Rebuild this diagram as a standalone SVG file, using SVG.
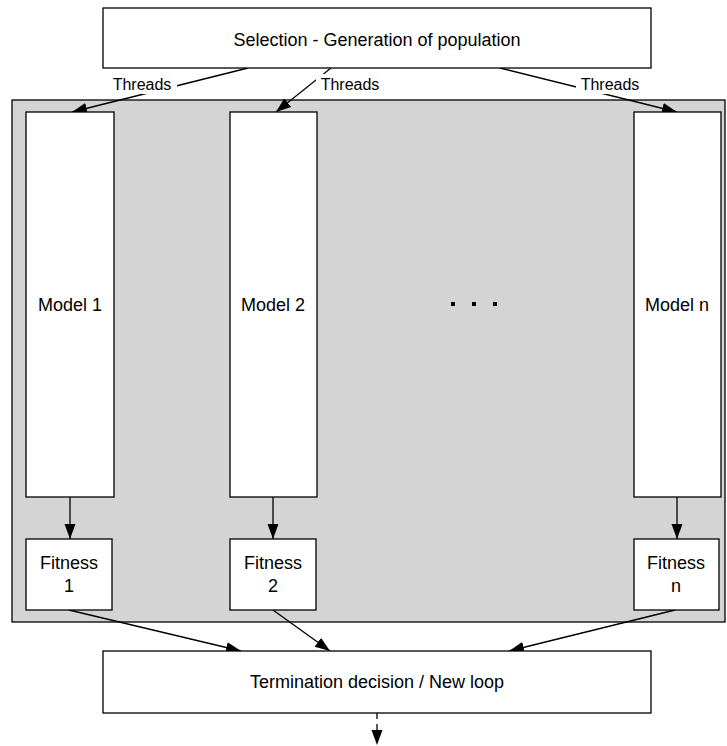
<svg xmlns="http://www.w3.org/2000/svg" width="727" height="746" viewBox="0 0 727 746">
<style>
.box{fill:#fff;stroke:#000;stroke-width:1.3}
.t{font-family:"Liberation Sans",Arial,sans-serif;font-size:18px;fill:#000;text-anchor:middle}
.th{font-family:"Liberation Sans",Arial,sans-serif;font-size:16px;fill:#000;text-anchor:middle}
.ln{stroke:#000;stroke-width:1.3;fill:none;marker-end:url(#ah)}
.dash{stroke:#000;stroke-width:1.3;fill:none;stroke-dasharray:6,5;marker-end:url(#ah)}
</style>
<defs>
<marker id="ah" markerUnits="userSpaceOnUse" markerWidth="16" markerHeight="14" viewBox="0 0 16 14" refX="15" refY="7" orient="auto">
<path d="M0,1.5 L15,7 L0,12.5 Z" fill="#000"/>
</marker>
</defs>
<rect width="727" height="746" fill="#fff"/>
<g id="container"><rect x="12" y="100" width="713" height="522" fill="#d4d4d4" stroke="#000" stroke-width="1.3"/></g>
<g id="connectors">
<line class="ln" x1="248" y1="68" x2="72" y2="112"/>
<line class="ln" x1="331" y1="68" x2="276" y2="112"/>
<line class="ln" x1="500" y1="68" x2="677" y2="112"/>
<line class="ln" x1="70" y1="497" x2="70" y2="539"/>
<line class="ln" x1="273" y1="497" x2="273" y2="539"/>
<line class="ln" x1="677" y1="497" x2="677" y2="539"/>
<line class="ln" x1="69" y1="610" x2="241" y2="651"/>
<line class="ln" x1="273" y1="610" x2="330" y2="651"/>
<line class="ln" x1="675" y1="610" x2="509" y2="651"/>
<line class="dash" x1="377" y1="713" x2="377" y2="745"/>
</g>
<g id="label-threads-1"><rect x="109" y="75" width="68" height="19" fill="#fff"/><text class="th" x="142" y="90">Threads</text></g>
<g id="label-threads-2"><rect x="316" y="74" width="68" height="20" fill="#fff"/><text class="th" x="350" y="90">Threads</text></g>
<g id="label-threads-3"><rect x="576" y="75" width="69" height="19" fill="#fff"/><text class="th" x="610" y="90">Threads</text></g>
<g id="selection"><rect class="box" x="103" y="8" width="548" height="60"/><text class="t" x="377" y="46">Selection - Generation of population</text></g>
<g id="model1"><rect class="box" x="26" y="112" width="88" height="385"/><text class="t" x="70" y="311">Model 1</text></g>
<g id="model2"><rect class="box" x="230" y="112" width="87" height="385"/><text class="t" x="273" y="311">Model 2</text></g>
<g id="modeln"><rect class="box" x="634" y="112" width="87" height="385"/><text class="t" x="677" y="311">Model n</text></g>
<g id="dots"><rect x="451" y="302" width="4" height="4"/><rect x="472" y="302" width="4" height="4"/><rect x="493" y="302" width="4" height="4"/></g>
<g id="fitness1"><rect class="box" x="26" y="539" width="86" height="71"/><text class="t" x="69" y="569">Fitness</text><text class="t" x="69" y="592">1</text></g>
<g id="fitness2"><rect class="box" x="230" y="539" width="86" height="71"/><text class="t" x="273" y="569">Fitness</text><text class="t" x="273" y="592">2</text></g>
<g id="fitnessn"><rect class="box" x="634" y="539" width="85" height="71"/><text class="t" x="676" y="569">Fitness</text><text class="t" x="676" y="592">n</text></g>
<g id="termination"><rect class="box" x="103" y="651" width="548" height="62"/><text class="t" x="377" y="688">Termination decision / New loop</text></g>
</svg>
